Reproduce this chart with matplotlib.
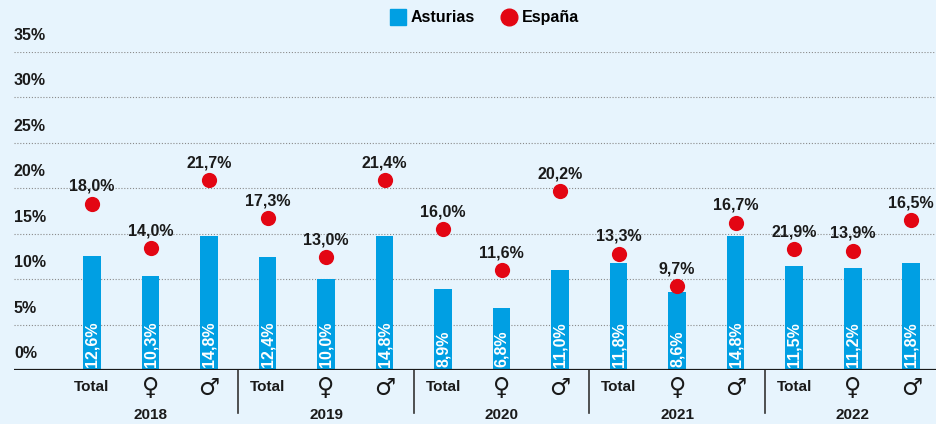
import matplotlib
matplotlib.use("Agg")
import matplotlib.pyplot as plt
import matplotlib.transforms as mtransforms
from matplotlib.lines import Line2D
import numpy as np

plt.rcParams['font.family'] = ['Liberation Sans', 'DejaVu Sans']
plt.rcParams['font.weight'] = 'bold'

years = ['2018', '2019', '2020', '2021', '2022']
groups = ['Total', '♀', '♂']
# Asturias (bars)
asturias = [12.6, 10.3, 14.8, 12.4, 10.0, 14.8, 8.9, 6.8, 11.0, 11.8, 8.6, 14.8, 11.5, 11.2, 11.8]
# España (dots) - heights as drawn in the picture, and the printed labels
espana = [18.3, 13.4, 20.9, 16.7, 12.4, 20.9, 15.5, 11.0, 19.7, 12.8, 9.2, 16.2, 13.3, 13.1, 16.5]
espana_labels = [18.0, 14.0, 21.7, 17.3, 13.0, 21.4, 16.0, 11.6, 20.2, 13.3, 9.7, 16.7, 21.9, 13.9, 16.5]
yticks = [0, 5, 10, 15, 20, 25, 30, 35]

BLUE = '#009fe3'
RED = '#e30613'
BG = '#e7f4fd'

def pct(v):
    return f"{v:.1f}%".replace('.', ',')

W, H = 937, 424
fig = plt.figure(figsize=(W / 100, H / 100), dpi=100, facecolor=BG)
ax = fig.add_axes([14 / W, 54 / H, 923 / W, 318 / H])
ax.set_facecolor(BG)

x = np.arange(len(asturias))
ax.bar(x, asturias, width=0.30, color=BLUE, zorder=2)
ax.scatter(x, espana, s=120, color=RED, zorder=3, linewidths=0)

ax.set_xlim(-1.333, 14.44)
ax.set_ylim(0, 35)

for s in ax.spines.values():
    s.set_visible(False)
ax.set_yticks([])
ax.set_xticks([])

# gridlines
for t in yticks[1:]:
    ax.axhline(t, color='#8a8a8a', lw=0.8, ls=(0, (1, 1.6)), zorder=1)
ax.axhline(0, color='#1a1a1a', lw=1.6, zorder=4)

# y tick labels above the gridlines
ylab_tr = mtransforms.offset_copy(ax.get_yaxis_transform(), fig=fig, x=0, y=9, units='dots')
for t in yticks:
    ax.text(0, t, f"{t}%", transform=ylab_tr, ha='left', va='bottom',
            fontsize=11.5, color='#1a1a1a')

# bar value labels inside the bars
bar_tr = mtransforms.offset_copy(ax.transData, fig=fig, x=0, y=3, units='dots')
for xi, v in zip(x, asturias):
    ax.text(xi, 0, pct(v), transform=bar_tr, rotation=90, ha='center', va='bottom',
            color='white', fontsize=11.5, zorder=5)

# dot labels
dot_tr = mtransforms.offset_copy(ax.transData, fig=fig, x=0, y=10, units='dots')
for xi, yv, lab in zip(x, espana, espana_labels):
    ax.text(xi, yv, pct(lab), transform=dot_tr, ha='center', va='bottom',
            color='#1a1a1a', fontsize=11.5, zorder=5)

# category and year labels below the axis
xtr = ax.get_xaxis_transform()
for i, xi in enumerate(x):
    g = groups[i % 3]
    if g == 'Total':
        ax.text(xi, -0.055, g, transform=xtr, ha='center', va='center',
                fontsize=11, color='#1a1a1a')
    else:
        ax.text(xi, -0.055, g, transform=xtr, ha='center', va='center',
                fontsize=17, color='#1a1a1a', family='DejaVu Sans', weight='normal')
for j, yr in enumerate(years):
    ax.text(3 * j + 1, -0.142, yr, transform=xtr, ha='center', va='center',
            fontsize=11, color='#1a1a1a')
for j in range(1, len(years)):
    ax.plot([3 * j - 0.5] * 2, [0, -0.135], transform=xtr, color='#333333',
            lw=1.2, clip_on=False)

# legend
handles = [
    Line2D([], [], marker='s', ls='none', color=BLUE, markersize=11.5),
    Line2D([], [], marker='o', ls='none', color=RED, markersize=12),
]
fig.legend(handles, ['Asturias', 'España'], loc='center', bbox_to_anchor=(0.517, 0.958),
           ncol=2, frameon=False, fontsize=11.5, handletextpad=0.3, columnspacing=1.6,
           handlelength=1.0)

fig.savefig('out.png', dpi=100, facecolor=BG)
